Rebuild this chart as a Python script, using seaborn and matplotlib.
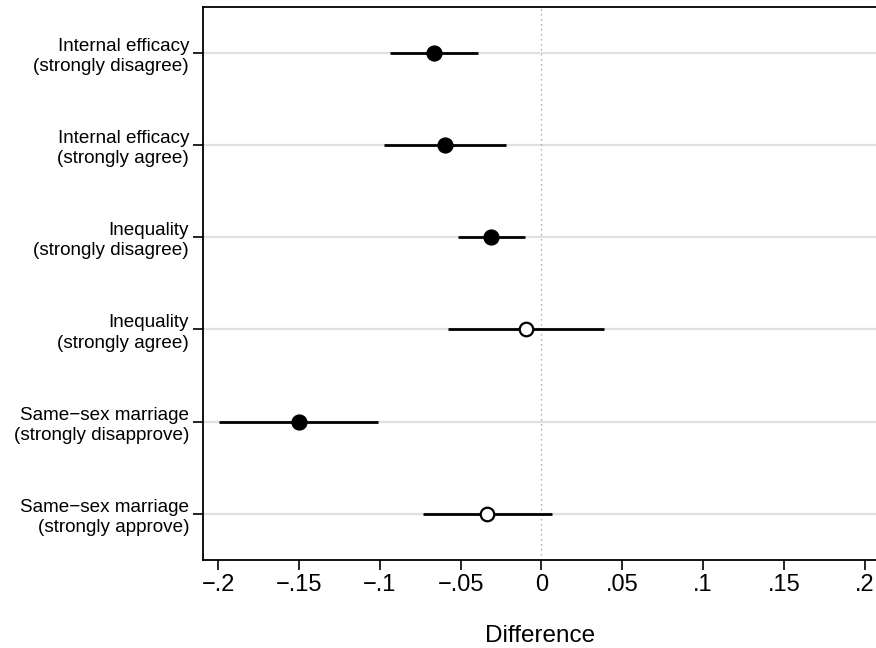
import matplotlib
matplotlib.use("Agg")
import matplotlib.pyplot as plt
import seaborn as sns
import pandas as pd
import numpy as np

labels = ["Internal efficacy\n(strongly disagree)",
          "Internal efficacy\n(strongly agree)",
          "Inequality\n(strongly disagree)",
          "Inequality\n(strongly agree)",
          "Same\u2212sex marriage\n(strongly disapprove)",
          "Same\u2212sex marriage\n(strongly approve)"]
estimate = [-0.0665, -0.0599, -0.0310, -0.0095, -0.1500, -0.0335]
ci_low = [-0.0936, -0.0977, -0.0514, -0.0576, -0.1993, -0.0733]
ci_high = [-0.0392, -0.0221, -0.0099, 0.0386, -0.1010, 0.0066]
significant = [True, True, True, False, True, False]
xticks = [-0.2, -0.15, -0.1, -0.05, 0, 0.05, 0.1, 0.15, 0.2]
xticklabels = ["\u2212.2", "\u2212.15", "\u2212.1", "\u2212.05", "0", ".05", ".1", ".15", ".2"]

df = pd.DataFrame({"label": labels, "est": estimate, "lo": ci_low, "hi": ci_high,
                   "sig": significant})
df["pos"] = np.arange(len(df))

sns.set_theme(style="white")
plt.rcParams["font.family"] = ["Liberation Sans", "DejaVu Sans"]
plt.rcParams["text.color"] = "black"
plt.rcParams["xtick.color"] = "black"
plt.rcParams["ytick.color"] = "black"
plt.rcParams["axes.labelcolor"] = "black"

fig = plt.figure(figsize=(8.76, 6.48), dpi=100)
ax = fig.add_axes([203/876, 1 - 560/648, (877-203)/876, (560-6.5)/648])

for p in df["pos"]:
    ax.axhline(p, color="#e0e0e0", lw=1.6, zorder=0)
ax.axvline(0, color="#999999", lw=0.9, ls=(0, (1, 3)), zorder=0)

ax.hlines(df["pos"], df["lo"], df["hi"], color="black", lw=2.0, zorder=2)
sns.scatterplot(data=df[df["sig"]], x="est", y="pos", ax=ax, s=110, color="black",
                edgecolor="black", linewidth=1.2, zorder=3, legend=False)
sns.scatterplot(data=df[~df["sig"]], x="est", y="pos", ax=ax, s=95, color="white",
                edgecolor="black", linewidth=1.6, zorder=3, legend=False)

ax.set_ylim(5.5, -0.5)
ax.set_xlim(-0.2094, 0.2076)
ax.set_yticks(df["pos"])
ax.set_yticklabels(df["label"], fontsize=13.6, linespacing=1.25)
ax.set_xticks(xticks)
ax.set_xticklabels(xticklabels, fontsize=17)
ax.set_xlabel("Difference", fontsize=17.5, labelpad=21)
ax.set_ylabel("")

for s in ["left", "bottom", "top"]:
    ax.spines[s].set_color("black")
    ax.spines[s].set_linewidth(1.3)
ax.spines["right"].set_visible(False)
ax.tick_params(axis="y", left=True, length=7, width=1.2, color="black", pad=3)
ax.tick_params(axis="x", bottom=True, length=7, width=1.2, color="black", pad=3)

fig.savefig("out.png", dpi=100)
